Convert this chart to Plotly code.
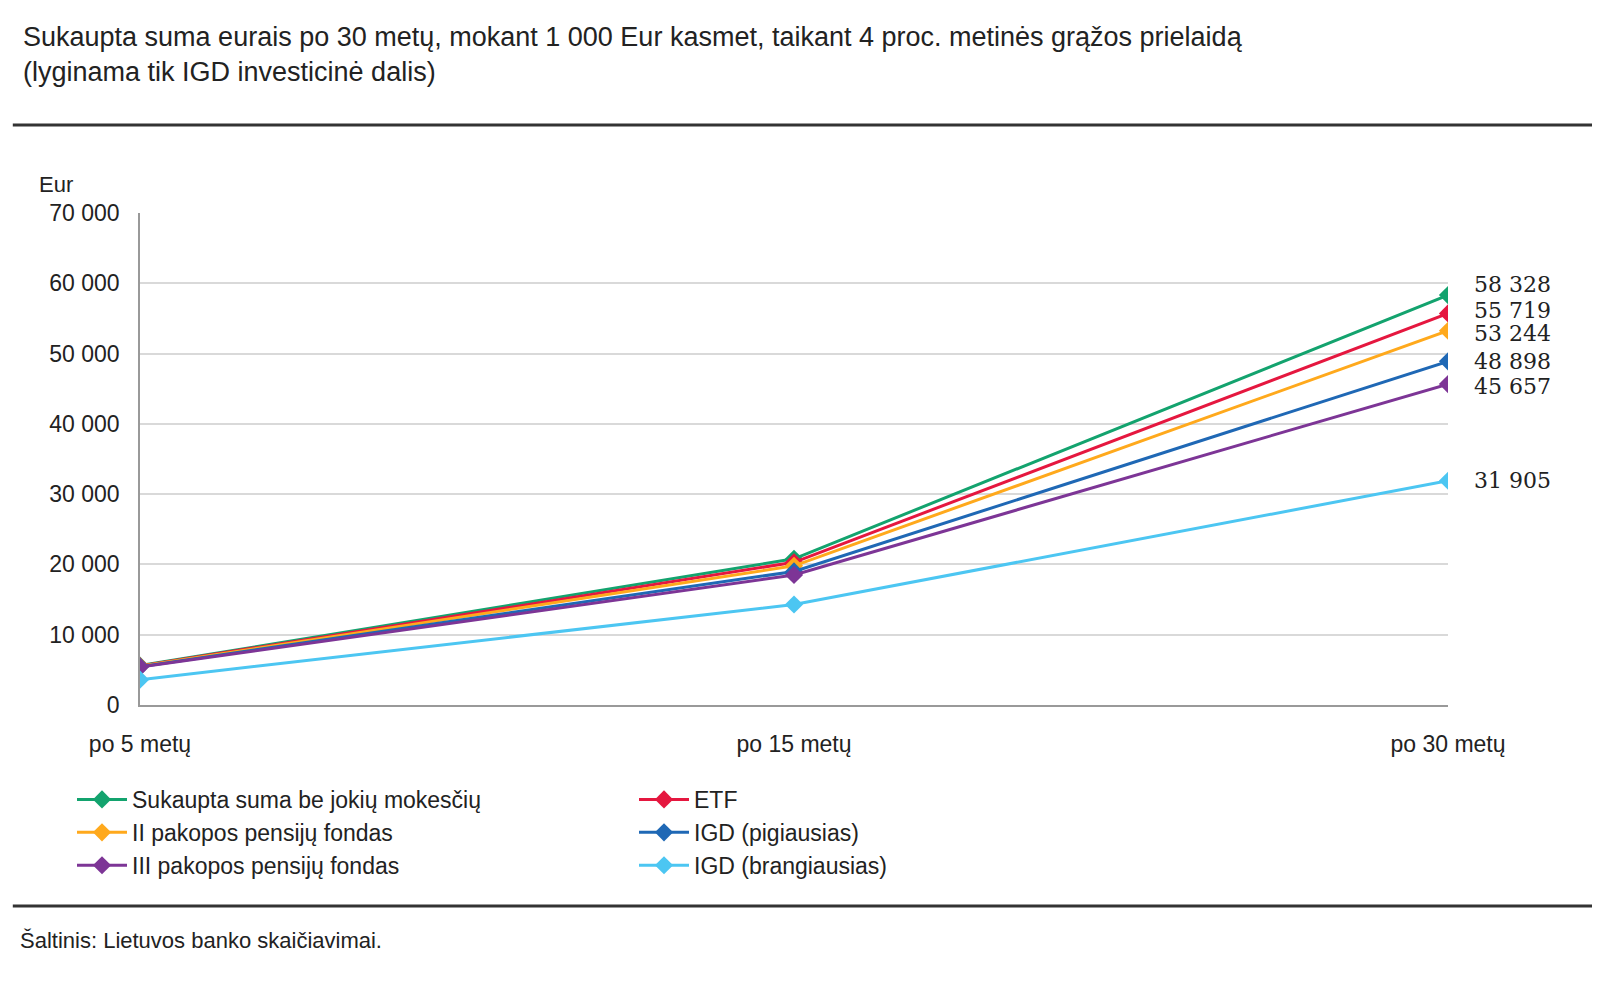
import plotly.graph_objects as go

# data
periods = ["po 5 metų", "po 15 metų", "po 30 metų"]
series_names = ["Sukaupta suma be jokių mokesčių", "ETF", "II pakopos pensijų fondas",
                "IGD (pigiausias)", "III pakopos pensijų fondas", "IGD (brangiausias)"]
no_fees = [5600, 20800, 58328]
etf = [5550, 20300, 55719]
pillar2 = [5500, 19800, 53244]
igd_cheap = [5450, 19000, 48898]
pillar3 = [5400, 18500, 45657]
igd_expensive = [3600, 14300, 31905]
colors = ["#13A36E", "#E5173F", "#FFA91C", "#1F68B5", "#7D3596", "#4CC6F2"]

all_series = [no_fees, etf, pillar2, igd_cheap, pillar3, igd_expensive]
y_ticks = list(range(0, 70001, 10000))
label_shift = [11, 3, -3, 0, -2, 0]  # nudge end labels apart

fig = go.Figure()
for name, vals, col, sh in zip(series_names, all_series, colors, label_shift):
    fig.add_trace(go.Scatter(x=[0, 1, 2], y=vals, name=name, mode="lines+markers",
                             line=dict(color=col, width=3),
                             marker=dict(symbol="diamond", size=14, color=col)))
    fig.add_annotation(x=2, y=vals[-1], text=f"{vals[-1]:,}".replace(",", " "),
                       xanchor="left", xshift=24, yshift=sh, showarrow=False,
                       font=dict(size=22, color="#222", family="DejaVu Serif"))

fig.update_layout(
    width=1600, height=984, margin=dict(l=0, r=0, t=0, b=0, autoexpand=False),
    plot_bgcolor="white", paper_bgcolor="white",
    font=dict(family="Liberation Sans", color="#222"),
    xaxis=dict(domain=[0.0825, 0.9], range=[0, 2], tickvals=[0, 1, 2], ticktext=periods,
               showgrid=False, showline=True, linecolor="#999", linewidth=1.5, automargin=False,
               tickfont=dict(size=23), ticks="outside", ticklen=18, tickcolor="rgba(0,0,0,0)"),
    yaxis=dict(domain=[1 - 697 / 984, 1 - 205 / 984], range=[0, 70000], tickvals=y_ticks,
               ticktext=[f"{v:,}".replace(",", " ") for v in y_ticks], automargin=False,
               showgrid=True, gridcolor="#d9d9d9", gridwidth=1.5, zeroline=False,
               showline=True, linecolor="#999", linewidth=1.5, tickfont=dict(size=23),
               ticks="outside", ticklen=14, tickcolor="rgba(0,0,0,0)"),
    legend=dict(orientation="h", x=0.04, y=1 - 770 / 984, yanchor="top",
                entrywidth=497, entrywidthmode="pixels", itemwidth=50,
                font=dict(size=23), tracegroupgap=0),
    showlegend=True,
)

fig.add_annotation(x=0.008, y=1 - 12 / 984, xref="paper", yref="paper", xanchor="left", yanchor="top",
                   align="left", showarrow=False, font=dict(size=27),
                   text="Sukaupta suma eurais po 30 metų, mokant 1 000 Eur kasmet, taikant 4 proc. metinės grąžos prielaidą<br>(lyginama tik IGD investicinė dalis)")
fig.add_annotation(x=0.018, y=1 - 162 / 984, xref="paper", yref="paper", xanchor="left", yanchor="top",
                   showarrow=False, font=dict(size=22), text="Eur")
fig.add_annotation(x=0.006, y=1 - 918 / 984, xref="paper", yref="paper", xanchor="left", yanchor="top",
                   showarrow=False, font=dict(size=22), text="Šaltinis: Lietuvos banko skaičiavimai.")
for yy in [117, 898]:
    fig.add_shape(type="line", xref="paper", yref="paper", x0=0.003, x1=1, y0=1 - yy / 984, y1=1 - yy / 984,
                  line=dict(color="#333", width=3))

fig.write_html("out.html")
